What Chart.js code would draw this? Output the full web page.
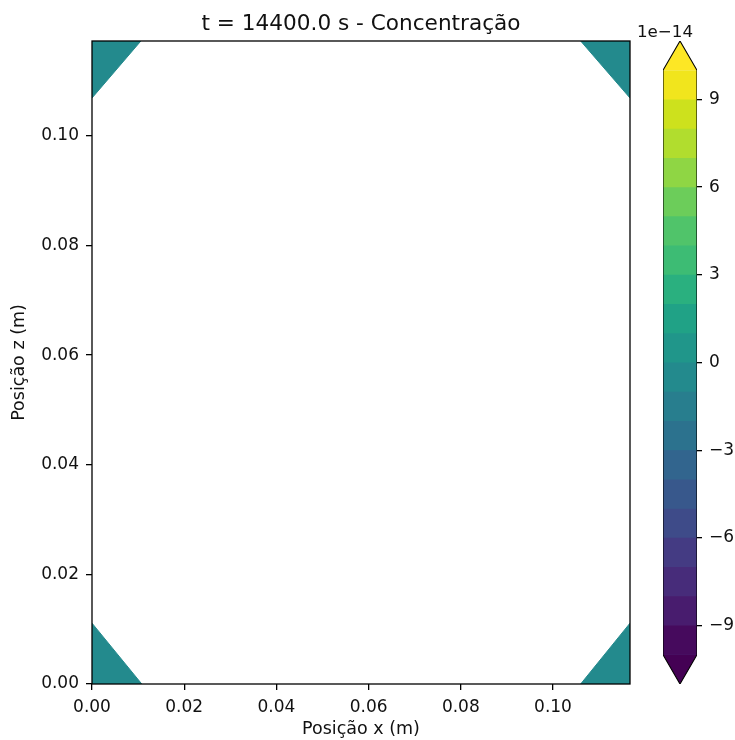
<!DOCTYPE html>
<html>
<head>
<meta charset="utf-8">
<script src="https://cdn.jsdelivr.net/npm/chart.js@4.4.1/dist/chart.umd.min.js"></script>
<style>
  html, body { margin: 0; padding: 0; background: #fff; }
  #wrap { position: relative; width: 735px; height: 740px; }
  #wrap canvas { position: absolute; left: 0; top: 0; }
</style>
</head>
<body>
<div id="wrap">
  <canvas id="main" width="735" height="740"></canvas>
  <canvas id="cbar" width="735" height="740"></canvas>
</div>
<script>
// ---------------- data ----------------
const titleText = 't = 14400.0 s - Concentração';
const xLabel = 'Posição x (m)';
const zLabel = 'Posição z (m)';
const xRange = [0, 0.1167];
const zRange = [0, 0.1173];
const xTicks = [0, 0.02, 0.04, 0.06, 0.08, 0.10];
const xTickLabels = ['0.00', '0.02', '0.04', '0.06', '0.08', '0.10'];
const zTicks = [0, 0.02, 0.04, 0.06, 0.08, 0.10];
const zTickLabels = ['0.00', '0.02', '0.04', '0.06', '0.08', '0.10'];

// filled corner regions (contour band between -1e-14 and 0)
const cornerTL_x = [0, 0.0106];
const cornerTL_z = [0.1069, 0.1173];
const cornerTR_x = [0.1060, 0.1167];
const cornerTR_z = [0.1173, 0.1069];
const cornerBL_x = [0, 0.0108];
const cornerBL_z = [0.0111, 0];
const cornerBR_x = [0.1060, 0.1167];
const cornerBR_z = [0, 0.0111];
const cornerBand = 9; // index of band [-1, 0]

// colorbar levels (x 1e-14)
const levels = [-10, -9, -8, -7, -6, -5, -4, -3, -2, -1, 0, 1, 2, 3, 4, 5, 6, 7, 8, 9, 10];
const cbarTicks = [-9, -6, -3, 0, 3, 6, 9];
const cbarTickLabels = ['\u22129', '\u22126', '\u22123', '0', '3', '6', '9'];
const offsetText = '1e\u221214';

// viridis colours of the bands
const bandColors = ['#460a5d', '#481c6e', '#472c7a', '#443b83', '#3e4b89', '#38588c', '#32658e',
  '#2c728e', '#287e8e', '#238a8d', '#20968a', '#20a286', '#2ab07f', '#3dbc74', '#50c46a',
  '#6ccd5a', '#8fd644', '#b1dd2e', '#cde11d', '#f1e51d'];
const underColor = '#440154';
const overColor = '#fde725';

// ---------------- styles ----------------
const FONT = "'DejaVu Sans', 'Liberation Sans', sans-serif";
const TXT = '#111';
const tickFont = { family: FONT, size: 17 };
const labelFont = { family: FONT, size: 17.5, lineHeight: 1.2 };

function pts(xs, zs) { return xs.map((x, i) => ({ x: x, y: zs[i] })); }

const cornerColor = bandColors[cornerBand];
function cornerDs(xs, zs, fill) {
  return {
    data: pts(xs, zs), showLine: true, fill: fill, tension: 0,
    backgroundColor: cornerColor, borderColor: cornerColor, borderWidth: 1,
    pointRadius: 0
  };
}

const frame = {
  id: 'frame',
  afterDatasetsDraw(chart) {
    const a = chart.chartArea, ctx = chart.ctx;
    ctx.save();
    ctx.strokeStyle = '#000';
    ctx.lineWidth = 1.3;
    ctx.strokeRect(a.left, a.top, a.right - a.left, a.bottom - a.top);
    ctx.restore();
  },
  afterDraw(chart) {
    const a = chart.chartArea, ctx = chart.ctx;
    ctx.save();
    ctx.fillStyle = TXT;
    ctx.font = "21.6px " + FONT;
    ctx.textAlign = 'center';
    ctx.textBaseline = 'alphabetic';
    ctx.fillText(titleText, (a.left + a.right) / 2, 30);
    ctx.restore();
  }
};

new Chart(document.getElementById('main'), {
  type: 'scatter',
  data: {
    datasets: [
      cornerDs(cornerTL_x, cornerTL_z, 'end'),
      cornerDs(cornerTR_x, cornerTR_z, 'end'),
      cornerDs(cornerBL_x, cornerBL_z, 'origin'),
      cornerDs(cornerBR_x, cornerBR_z, 'origin')
    ]
  },
  options: {
    responsive: false,
    animation: false,
    devicePixelRatio: 1,
    layout: { padding: { left: 0, top: 41, right: 105, bottom: 0 } },
    plugins: {
      legend: { display: false },
      tooltip: { enabled: false },
      title: { display: false }
    },
    scales: {
      x: {
        type: 'linear', position: 'bottom', min: xRange[0], max: xRange[1],
        afterBuildTicks: s => { s.ticks = xTicks.map(v => ({ value: v })); },
        afterFit: s => { s.height = 56; },
        ticks: { color: TXT, font: tickFont, padding: 7, maxRotation: 0, autoSkip: false,
                 callback: (v, i) => xTickLabels[i] },
        grid: { display: true, drawOnChartArea: false, drawTicks: true, tickLength: 6,
                color: '#000', lineWidth: 1.3 },
        border: { display: false },
        title: { display: true, text: xLabel, color: TXT, font: labelFont,
                 padding: { top: 0, bottom: 0 } }
      },
      y: {
        type: 'linear', position: 'left', min: zRange[0], max: zRange[1],
        afterBuildTicks: s => { s.ticks = zTicks.map(v => ({ value: v })); },
        afterFit: s => { s.width = 92; },
        ticks: { color: TXT, font: tickFont, padding: 7, autoSkip: false,
                 callback: (v, i) => zTickLabels[i] },
        grid: { display: true, drawOnChartArea: false, drawTicks: true, tickLength: 6,
                color: '#000', lineWidth: 1.3 },
        border: { display: false },
        title: { display: true, text: zLabel, color: TXT, font: labelFont,
                 padding: { top: 9, bottom: 0 } }
      }
    }
  },
  plugins: [frame]
});

// ---------------- colorbar ----------------
const lo = levels[0], hi = levels[levels.length - 1];
const cbDatasets = [];
// outline (drawn on top)
cbDatasets.push({
  data: [{x:0,y:lo},{x:0,y:hi},{x:0.5,y:hi+1},{x:1,y:hi},{x:1,y:lo},{x:0.5,y:lo-1},{x:0,y:lo}],
  showLine: true, fill: false, borderColor: '#000', borderWidth: 1.1, pointRadius: 0, tension: 0
});
for (let i = 0; i < levels.length - 1; i++) {
  cbDatasets.push({
    data: [{ x: 0, y: levels[i + 1] }, { x: 1, y: levels[i + 1] }],
    showLine: true, fill: { value: lo }, backgroundColor: bandColors[i],
    borderColor: bandColors[i], borderWidth: 0.01, pointRadius: 0, tension: 0
  });
}
cbDatasets.push({
  data: [{ x: 0, y: hi }, { x: 0.5, y: hi + 1 }, { x: 1, y: hi }],
  showLine: true, fill: { value: hi }, backgroundColor: overColor,
  borderColor: overColor, borderWidth: 0.01, pointRadius: 0, tension: 0
});
cbDatasets.push({
  data: [{ x: 0, y: lo }, { x: 0.5, y: lo - 1 }, { x: 1, y: lo }],
  showLine: true, fill: { value: lo }, backgroundColor: underColor,
  borderColor: underColor, borderWidth: 0.01, pointRadius: 0, tension: 0
});

const offsetPlugin = {
  id: 'offsetText',
  afterDraw(chart) {
    const ctx = chart.ctx, a = chart.chartArea;
    ctx.save();
    ctx.fillStyle = TXT;
    ctx.font = "16.7px " + FONT;
    ctx.textAlign = 'center';
    ctx.textBaseline = 'alphabetic';
    ctx.fillText(offsetText, (a.left + a.right) / 2 - 15, 36.5);
    ctx.restore();
  }
};

new Chart(document.getElementById('cbar'), {
  type: 'scatter',
  data: { datasets: cbDatasets },
  options: {
    responsive: false,
    animation: false,
    devicePixelRatio: 1,
    layout: { padding: { left: 663, top: 41, right: 0, bottom: 56 } },
    plugins: { legend: { display: false }, tooltip: { enabled: false }, title: { display: false } },
    scales: {
      x: { type: 'linear', min: 0, max: 1, display: false },
      y: {
        type: 'linear', position: 'right', min: lo - 1, max: hi + 1,
        afterBuildTicks: s => { s.ticks = cbarTicks.map(v => ({ value: v })); },
        afterFit: s => { s.width = 38; },
        ticks: { color: TXT, font: tickFont, padding: 7, autoSkip: false,
                 callback: (v, i) => cbarTickLabels[i] },
        grid: { display: true, drawOnChartArea: false, drawTicks: true, tickLength: 5,
                color: '#000', lineWidth: 1.3 },
        border: { display: false }
      }
    }
  },
  plugins: [offsetPlugin]
});
</script>
</body>
</html>
